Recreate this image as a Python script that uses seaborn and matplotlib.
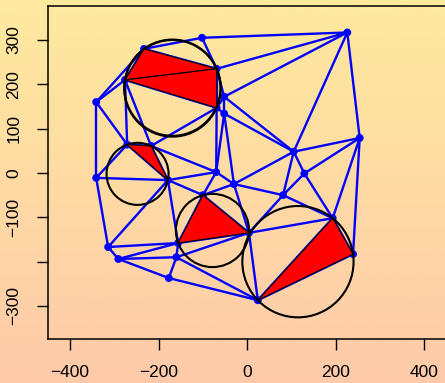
import numpy as np
import pandas as pd
import matplotlib
matplotlib.use("Agg")
import matplotlib.pyplot as plt
import matplotlib.tri as mtri
from matplotlib.collections import LineCollection
from matplotlib.patches import Polygon, Circle
import seaborn as sns

# ---- data ----
point_names = ["P1", "P", "Q", "Q1", "R", "R2", "S", "T", "A", "N", "O", "M", "B", "K",
               "L", "J", "G", "I", "C", "D", "F", "E", "H", "W", "U", "V", "Z", "AA", "BB"]
point_x = [-233, -102, 226, -276, -69, -69, -52, -52, -341, -271, -217, -179, -341, -70,
           -30, -100, -156, 4, -314, -291, -160, -177, 24, 254, 105, 129, 81, 193, 239]
point_y = [280, 305, 317, 210, 235, 147, 172, 134, 160, 64, 61, -16, -11, 2,
           -25, -50, -158, -135, -167, -194, -190, -237, -287, 79, 48, -1, -50, -102, -183]
red_triangles = [("P1", "Q1", "R"), ("Q1", "R", "R2"), ("N", "O", "M"),
                 ("J", "G", "I"), ("H", "AA", "BB")]
x_ticks = [-400, -200, 0, 200, 400]
x_tick_labels = ["\u2212400", "\u2212200", "0", "200", "400"]
y_ticks = [-300, -200, -100, 0, 100, 200, 300]
y_tick_labels = ["\u2212300", "", "\u2212100", "0", "100", "200", "300"]

df = pd.DataFrame({"name": point_names, "x": point_x, "y": point_y})
pos = {n: (x, y) for n, x, y in zip(point_names, point_x, point_y)}

sns.set_style("ticks")
plt.rcParams['font.family'] = ['Liberation Sans', 'DejaVu Sans']

W, H = 445, 383
fig = plt.figure(figsize=(W / 100, H / 100), dpi=100)
top_c = np.array([254, 234, 158]) / 255
bot_c = np.array([254, 202, 170]) / 255
fig.patch.set_facecolor(top_c)
bg = fig.add_axes([0, 0, 1, 1])
bg.axis('off')
g = np.linspace(0, 1, 256)[:, None, None]
img = top_c[None, None, :] + (bot_c - top_c)[None, None, :] * g
bg.imshow(img, aspect='auto', extent=[0, 1, 0, 1], zorder=0)
bg.set_xlim(0, 1); bg.set_ylim(0, 1)

left_px, right_px, top_px, bottom_px = 48, 460, 6, 339
ax = fig.add_axes([left_px / W, (H - bottom_px) / H, (right_px - left_px) / W, (bottom_px - top_px) / H])
ax.patch.set_alpha(0)
ax.set_xlim(-449.8, 480.5)
ax.set_ylim(-374.5, 376.7)

# triangulation edges
tri = mtri.Triangulation(df["x"].to_numpy(float), df["y"].to_numpy(float))
xs = df["x"].to_numpy(float); ys = df["y"].to_numpy(float)
segs = [[(xs[a], ys[a]), (xs[b], ys[b])] for a, b in tri.edges]
ax.add_collection(LineCollection(segs, colors="#0000ff", linewidths=1.7, zorder=2))

sns.scatterplot(data=df, x="x", y="y", color="#0000ff", s=32, edgecolor="none",
                linewidth=0, zorder=3, ax=ax, legend=False)

def circumcircle(p1, p2, p3):
    ax_, ay_ = p1; bx, by = p2; cx, cy = p3
    d = 2 * (ax_ * (by - cy) + bx * (cy - ay_) + cx * (ay_ - by))
    ux = ((ax_**2 + ay_**2) * (by - cy) + (bx**2 + by**2) * (cy - ay_) + (cx**2 + cy**2) * (ay_ - by)) / d
    uy = ((ax_**2 + ay_**2) * (cx - bx) + (bx**2 + by**2) * (ax_ - cx) + (cx**2 + cy**2) * (bx - ax_)) / d
    r = np.hypot(ax_ - ux, ay_ - uy)
    return ux, uy, r

for t in red_triangles:
    pts = [pos[n] for n in t]
    ax.add_patch(Polygon(pts, closed=True, facecolor="#ff0000", edgecolor="black",
                         linewidth=0.8, zorder=4))
for t in red_triangles:
    pts = [pos[n] for n in t]
    cx, cy, r = circumcircle(*pts)
    ax.add_patch(Circle((cx, cy), r, fill=False, edgecolor="black", linewidth=1.5, zorder=5))

ax.set_xticks(x_ticks)
ax.set_xticklabels(x_tick_labels)
ax.set_yticks(y_ticks)
ax.set_yticklabels(y_tick_labels, rotation=90, va="center")
ax.set_xlabel(""); ax.set_ylabel("")
ax.tick_params(axis="both", length=8, width=1, pad=11, labelsize=12.5, color="black", labelcolor="black")
for s in ["left", "bottom", "top"]:
    ax.spines[s].set_visible(True)
    ax.spines[s].set_color("black")
    ax.spines[s].set_linewidth(1.1)
ax.spines["right"].set_visible(False)

fig.savefig("out.png", dpi=100)
